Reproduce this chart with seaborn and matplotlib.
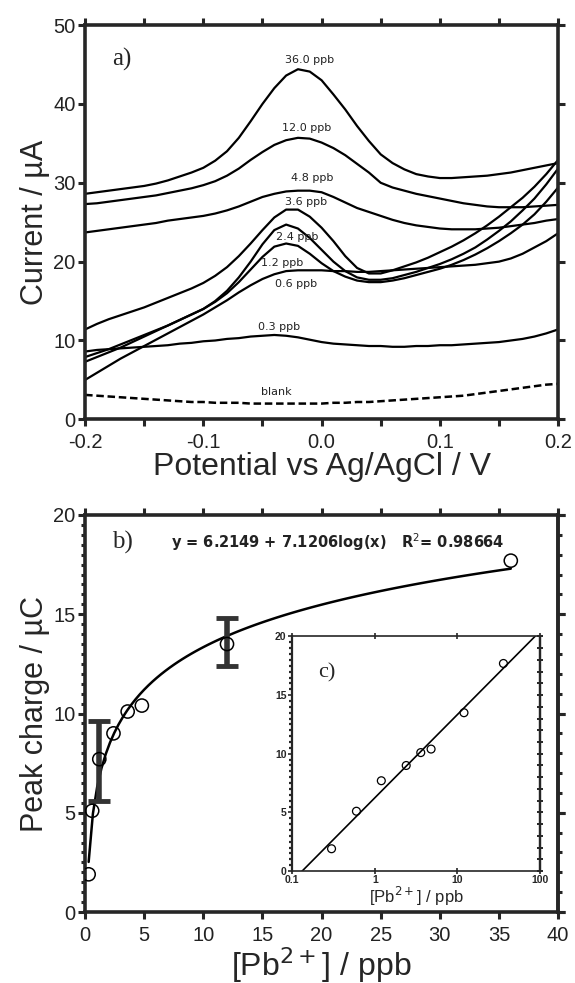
import numpy as np
import pandas as pd
import matplotlib
matplotlib.use("Agg")
import matplotlib.pyplot as plt
import seaborn as sns
from matplotlib.ticker import MultipleLocator, FixedLocator, NullLocator

sns.set_theme(style="ticks")
plt.rcParams['font.family'] = ['Liberation Sans', 'DejaVu Sans']
plt.rcParams['axes.unicode_minus'] = False

# ---- data, panel a) : stripping voltammograms
potential = np.round(np.arange(-0.20, 0.2001, 0.01), 2)

i_36_0 = [28.6, 28.8, 29.0, 29.2, 29.4, 29.6, 29.9, 30.3, 30.8, 31.3, 31.9, 32.8, 34.0, 35.7,
          37.8, 40.0, 42.0, 43.6, 44.4, 44.1, 43.0, 41.2, 39.3, 37.2, 35.3, 33.6, 32.5, 31.7,
          31.1, 30.8, 30.6, 30.6, 30.7, 30.8, 30.9, 31.1, 31.3, 31.6, 31.9, 32.2, 32.5]
i_12_0 = [27.3, 27.4, 27.6, 27.8, 28.0, 28.2, 28.4, 28.7, 29.0, 29.3, 29.7, 30.2, 30.9, 31.8,
          32.9, 33.9, 34.8, 35.4, 35.7, 35.6, 35.1, 34.4, 33.5, 32.4, 31.3, 30.0, 29.4, 29.0,
          28.6, 28.3, 28.0, 27.7, 27.4, 27.2, 27.0, 26.9, 26.9, 26.9, 27.0, 27.1, 27.2]
i_4_8 = [23.7, 23.9, 24.1, 24.3, 24.5, 24.7, 24.9, 25.2, 25.4, 25.6, 25.8, 26.1, 26.5, 27.0,
         27.6, 28.2, 28.6, 28.9, 29.0, 29.0, 28.8, 28.2, 27.5, 26.8, 26.3, 25.8, 25.3, 24.9,
         24.6, 24.4, 24.2, 24.1, 24.1, 24.1, 24.2, 24.3, 24.5, 24.7, 24.9, 25.2, 25.4]
i_3_6 = [11.4, 12.1, 12.7, 13.2, 13.7, 14.2, 14.8, 15.4, 16.0, 16.6, 17.3, 18.2, 19.3, 20.7,
         22.3, 24.0, 25.6, 26.6, 26.6, 25.7, 24.3, 22.6, 20.7, 19.2, 18.5, 18.5, 18.9, 19.4,
         19.9, 20.5, 21.2, 21.9, 22.7, 23.6, 24.6, 25.7, 26.9, 28.1, 29.5, 31.1, 32.9]
i_2_4 = [7.9, 8.4, 8.9, 9.5, 10.1, 10.7, 11.3, 11.9, 12.6, 13.3, 14.0, 15.0, 16.3, 18.0,
         20.0, 22.2, 24.0, 24.7, 24.2, 23.0, 21.5, 20.0, 18.8, 18.0, 17.7, 17.7, 17.9, 18.3,
         18.7, 19.2, 19.7, 20.3, 21.0, 21.8, 22.8, 23.9, 25.1, 26.5, 28.0, 29.8, 31.8]
i_1_2 = [7.3, 7.9, 8.5, 9.1, 9.8, 10.5, 11.2, 11.9, 12.6, 13.3, 14.0, 14.9, 16.0, 17.4,
         19.0, 20.6, 21.9, 22.3, 22.0, 21.0, 19.8, 18.8, 18.1, 17.6, 17.4, 17.4, 17.6, 17.9,
         18.3, 18.7, 19.1, 19.6, 20.2, 20.9, 21.7, 22.6, 23.6, 24.7, 26.0, 27.6, 29.4]
i_0_6 = [5.0, 5.9, 6.8, 7.7, 8.5, 9.3, 10.1, 10.9, 11.7, 12.5, 13.3, 14.2, 15.1, 16.1,
         17.0, 17.8, 18.4, 18.8, 18.9, 18.9, 18.9, 18.8, 18.8, 18.7, 18.7, 18.8, 18.9, 19.0,
         19.1, 19.2, 19.3, 19.4, 19.5, 19.6, 19.8, 20.0, 20.4, 21.0, 21.8, 22.6, 23.6]
i_0_3 = [8.6, 8.8, 8.9, 9.0, 9.1, 9.2, 9.3, 9.4, 9.6, 9.7, 9.9, 10.0, 10.2, 10.3,
         10.5, 10.6, 10.7, 10.6, 10.4, 10.1, 9.8, 9.6, 9.5, 9.4, 9.3, 9.3, 9.2, 9.2,
         9.3, 9.3, 9.4, 9.4, 9.5, 9.6, 9.7, 9.8, 10.0, 10.2, 10.5, 10.9, 11.4]
i_blank = [3.1, 3.0, 2.9, 2.8, 2.7, 2.6, 2.5, 2.4, 2.3, 2.2, 2.2, 2.1, 2.1, 2.1,
           2.0, 2.0, 2.0, 2.0, 2.0, 2.0, 2.0, 2.1, 2.1, 2.2, 2.2, 2.3, 2.4, 2.5,
           2.6, 2.7, 2.8, 2.9, 3.0, 3.2, 3.4, 3.6, 3.8, 4.0, 4.2, 4.4, 4.5]

curves = [i_36_0, i_12_0, i_4_8, i_3_6, i_2_4, i_1_2, i_0_6, i_0_3]
curve_labels = ["36.0 ppb", "12.0 ppb", "4.8 ppb", "3.6 ppb", "2.4 ppb", "1.2 ppb", "0.6 ppb", "0.3 ppb", "blank"]
label_x = [-0.010, -0.013, -0.008, -0.013, -0.021, -0.033, -0.022, -0.036, -0.038]
label_y = [45.6, 36.9, 30.6, 27.5, 23.1, 19.8, 17.2, 11.7, 3.5]

# ---- data, panels b) and c) : calibration
conc = [0.3, 0.6, 1.2, 2.4, 3.6, 4.8, 12.0, 36.0]
charge = [1.9, 5.1, 7.7, 9.0, 10.1, 10.4, 13.5, 17.7]
err_conc = [1.2, 12.0]
err_charge = [7.6, 13.6]
err_size = [2.0, 1.2]

fig = plt.figure(figsize=(5.75, 9.83), dpi=100)
ax_a = fig.add_axes([0.148, 0.5734, 0.8226, 0.4011])
ax_b = fig.add_axes([0.148, 0.0722, 0.8226, 0.4039])
ax_c = fig.add_axes([0.508, 0.1139, 0.4313, 0.2386])

# f0, voltammograms
for cur in curves:
    sns.lineplot(x=potential, y=cur, color="black", lw=1.6, ax=ax_a)
sns.lineplot(x=potential, y=i_blank, color="black", lw=1.8, ax=ax_a)
ax_a.lines[-1].set_dashes([3, 1.5])
for lab, lx, ly in zip(curve_labels, label_x, label_y):
    ax_a.text(lx, ly, lab, ha="center", va="center", fontsize=8, color="#222222",
              family=["DejaVu Sans"])
ax_a.text(-0.177, 45.6, "a)", family=["Liberation Serif"], fontsize=18, va="center")
ax_a.set_xlim(-0.2, 0.2)
ax_a.set_ylim(0, 50)
ax_a.xaxis.set_major_locator(MultipleLocator(0.1))
ax_a.xaxis.set_minor_locator(MultipleLocator(0.05))
ax_a.yaxis.set_major_locator(MultipleLocator(10))
ax_a.set_xticklabels([f"{v:.1f}" for v in ax_a.get_xticks()])
ax_a.set_xlim(-0.2, 0.2)
ax_a.set_xlabel("Potential vs Ag/AgCl / V", fontsize=23, labelpad=0)
ax_a.set_ylabel("Current / µA", fontsize=22, labelpad=2)

# f1, calibration in linear scale
sns.regplot(x=conc, y=charge, logx=True, ci=None, scatter=False, ax=ax_b,
            line_kws=dict(color="black", lw=1.8))
sns.scatterplot(x=conc, y=charge, marker="o", s=90, facecolor="none", edgecolor="black",
                linewidth=1.1, ax=ax_b, zorder=4)
ax_b.errorbar(err_conc, err_charge, yerr=err_size, fmt="none", ecolor="#333333",
              elinewidth=4, capsize=8, capthick=3.5, zorder=3)
ax_b.text(7.3, 18.65, "y = 6.2149 + 7.1206log(x)   R$^2$= 0.98664", fontsize=10.5,
          fontweight="bold", va="center", color="#222222", family=["DejaVu Sans"])
ax_b.text(2.3, 18.6, "b)", family=["Liberation Serif"], fontsize=18, va="center")
ax_b.set_xlim(0, 40)
ax_b.set_ylim(0, 20)
ax_b.xaxis.set_major_locator(MultipleLocator(5))
ax_b.yaxis.set_major_locator(MultipleLocator(5))
ax_b.yaxis.set_minor_locator(MultipleLocator(0.5))
ax_b.set_xlabel("[Pb$^{2+}$] / ppb", fontsize=23, labelpad=0)
ax_b.set_ylabel("Peak charge / µC", fontsize=22, labelpad=2)
sec_b = ax_b.secondary_yaxis("right")
sec_b.yaxis.set_major_locator(MultipleLocator(5))
sec_b.yaxis.set_minor_locator(MultipleLocator(1))
sec_b.set_yticklabels([])

for ax in (ax_a, ax_b):
    for sp in ax.spines.values():
        sp.set_linewidth(2.6)
    ax.tick_params(which="both", direction="out", top=True, right=True, width=2.2,
                   length=5, labelsize=14.5, pad=2, labelcolor="#222222")
    ax.tick_params(axis="x", which="major", pad=5)
    ax.tick_params(axis="y", which="minor", length=3, width=2.2)
ax_a.tick_params(axis="x", which="minor", length=5)
ax_b.tick_params(axis="y", which="minor", right=False)
sec_b.spines["right"].set_linewidth(2.6)
sec_b.tick_params(which="major", direction="out", length=5, width=2.2)
sec_b.tick_params(which="minor", direction="out", length=3, width=2.2)

# f2, inset in semi-log scale
ax_c.set_xscale("log")
ax_c.set_xlim(0.1, 100)
ax_c.set_ylim(0, 20)
sns.regplot(x=conc, y=charge, logx=True, ci=None, scatter=False, truncate=False, ax=ax_c,
            line_kws=dict(color="black", lw=1.2))
sns.scatterplot(x=conc, y=charge, marker="o", s=32, facecolor="none", edgecolor="black",
                linewidth=0.9, ax=ax_c, zorder=4)
ax_c.text(0.205, 16.9, "c)", family=["Liberation Serif"], fontsize=16, va="center", ha="left")
ax_c.set_xlim(0.1, 100)
ax_c.set_ylim(0, 20)
ax_c.xaxis.set_major_locator(FixedLocator([0.1, 1, 10, 100]))
ax_c.xaxis.set_minor_locator(NullLocator())
ax_c.set_xticklabels(["0.1", "1", "10", "100"])
ax_c.yaxis.set_major_locator(MultipleLocator(5))
ax_c.yaxis.set_minor_locator(MultipleLocator(0.5))
ax_c.tick_params(which="both", direction="out", labelsize=7.5, width=1.2, length=3, pad=1,
                 top=True)
ax_c.tick_params(axis="y", which="minor", length=2, width=1.6)
ax_c.tick_params(axis="x", which="major", direction="inout", length=4)
for lab in ax_c.get_xticklabels() + ax_c.get_yticklabels():
    lab.set_fontweight("bold")
ax_c.spines["left"].set_linewidth(1.6)
ax_c.spines["right"].set_linewidth(1.6)
ax_c.spines["top"].set_linewidth(1.2)
ax_c.spines["bottom"].set_linewidth(1.2)
sec_c = ax_c.secondary_yaxis("right")
sec_c.yaxis.set_major_locator(MultipleLocator(5))
sec_c.yaxis.set_minor_locator(MultipleLocator(1))
sec_c.set_yticklabels([])
sec_c.tick_params(which="both", direction="inout", length=4, width=1.4)
sec_c.spines["right"].set_linewidth(1.6)
ax_c.set_xlabel("[Pb$^{2+}$] / ppb", fontsize=12, labelpad=0)
ax_c.set_ylabel("")

plt.savefig("out.png", dpi=100)
